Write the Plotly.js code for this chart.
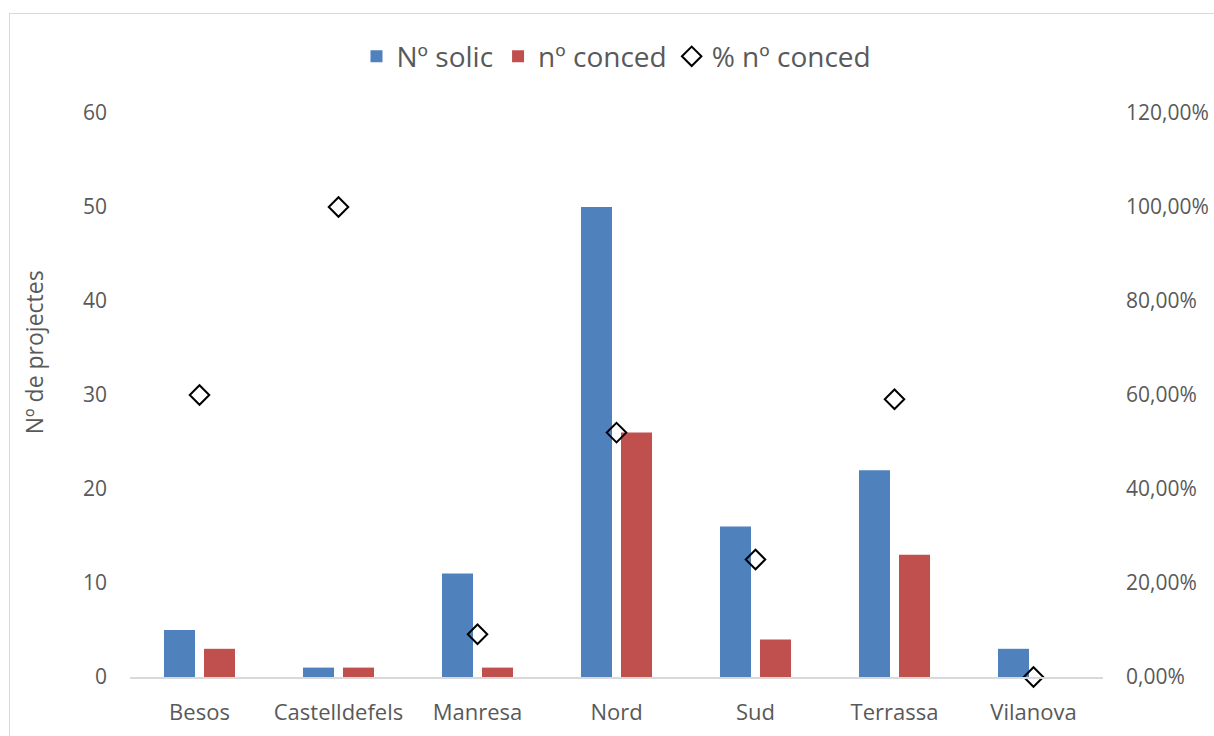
<!DOCTYPE html>
<html>
<head>
<meta charset="utf-8">
<script src="https://cdn.plot.ly/plotly-3.0.1.min.js"></script>
<style>
html,body{margin:0;padding:0;background:#fff;overflow:hidden;}
#frame{position:absolute;left:9px;top:13px;width:1400px;height:900px;border:1px solid #d9d9d9;box-sizing:border-box;pointer-events:none;}
#chart{position:absolute;left:0;top:0;width:1214px;height:736px;}
</style>
</head>
<body>
<div id="chart"></div>
<div id="frame"></div>
<script>
const categories = ["Besos","Castelldefels","Manresa","Nord","Sud","Terrassa","Vilanova"];
const solic = [5, 1, 11, 50, 16, 22, 3];
const conced = [3, 1, 1, 26, 4, 13, 0];
const pctConced = [0.60, 1.00, 0.0909, 0.52, 0.25, 0.5909, 0.0];
const leftTicks = [0, 10, 20, 30, 40, 50, 60];
const rightTicks = [0, 0.2, 0.4, 0.6, 0.8, 1.0, 1.2];
const yTitle = 'Nº de projectes';

const txt = '#595959';
const fontFam = 'Open Sans, Liberation Sans, Arial, sans-serif';

const traces = [
  {type:'bar', name:'Nº solic', x:categories, y:solic, marker:{color:'#4f81bd'}, hoverinfo:'x+y'},
  {type:'bar', name:'nº conced', x:categories, y:conced, marker:{color:'#c0504d'}, hoverinfo:'x+y'},
  {type:'scatter', mode:'markers', name:'% nº conced', x:categories, y:pctConced, yaxis:'y2',
   marker:{symbol:'diamond-open', size:15, color:'#000', line:{width:2, color:'#000'}}, cliponaxis:false}
];

const layout = {
  width:1214, height:736,
  margin:{l:130, r:111, t:113, b:59},
  paper_bgcolor:'rgba(0,0,0,0)', plot_bgcolor:'rgba(0,0,0,0)',
  separators:', ',
  font:{family:fontFam, color:txt, size:21},
  barmode:'group', bargap:0.424, bargroupgap:0.225,
  showlegend:true,
  legend:{orientation:'h', x:0.5, xanchor:'center', y:1.1, yanchor:'middle',
          font:{size:28, color:txt}, itemwidth:30, traceorder:'normal'},
  xaxis:{type:'category', showgrid:false, zeroline:false, showline:true, linecolor:'#d9d9d9', linewidth:1.5,
         ticks:'', tickfont:{size:22, color:txt}, ticklabelstandoff:15, fixedrange:true},
  yaxis:{range:[0,60], tickvals:leftTicks, showgrid:false, zeroline:false, showline:false, ticks:'',
         tickfont:{size:21, color:txt}, ticklabelstandoff:22},
  yaxis2:{range:[0,1.2], tickvals:rightTicks, tickformat:'.2%', overlaying:'y', side:'right',
          showgrid:false, zeroline:false, showline:false, ticks:'', tickfont:{size:21, color:txt},
          ticklabelstandoff:22},
  annotations:[{text:yTitle, xref:'paper', yref:'paper', x:-0.0985, y:0.576, xanchor:'center', yanchor:'middle',
                textangle:-90, showarrow:false, font:{size:23, color:txt}}]
};

Plotly.newPlot('chart', traces, layout, {displayModeBar:false, staticPlot:true});
</script>
</body>
</html>
